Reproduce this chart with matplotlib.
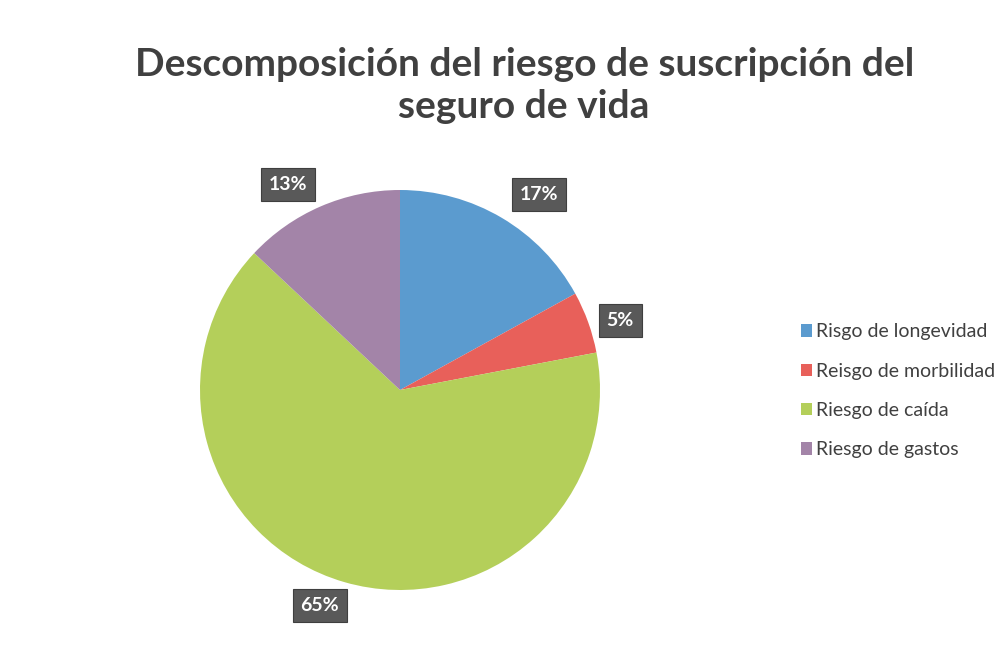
import matplotlib.pyplot as plt

categories = ['Risgo de longevidad', 'Reisgo de morbilidad', 'Riesgo de caída', 'Riesgo de gastos']
values = [17, 5, 65, 13]
colors = ['#5B9BCF', '#E8605A', '#B4CF5A', '#A384A8']

plt.rcParams['font.family'] = ['Lato', 'DejaVu Sans']

fig = plt.figure(figsize=(10.08, 6.45), dpi=100)
fig.patch.set_facecolor('white')

# pie axes: centre ~ (400, 390) px, radius 200 px
ax = fig.add_axes([200 / 1008, 55 / 645, 400 / 1008, 400 / 645])
wedges, texts, autotexts = ax.pie(values, colors=colors, startangle=90, counterclock=False,
                                  radius=1, autopct='%d%%', pctdistance=1.17,
                                  wedgeprops=dict(linewidth=0))
ax.set_xlim(-1, 1)
ax.set_ylim(-1, 1)
ax.set_aspect('auto')

# small nudges so the boxes sit where excel put them
nudges = [(0.10, -0.03), (0.0, -0.05), (-0.075, 0.045), (-0.095, -0.045)]
for t, (dx, dy) in zip(autotexts, nudges):
    x, y = t.get_position()
    t.set_position((x + dx, y + dy))
    t.set_color('white')
    t.set_fontsize(14)
    t.set_fontweight('bold')
    t.set_clip_on(False)
    t.set_bbox(dict(boxstyle='square,pad=0.4', facecolor='#595959', edgecolor='#3f3f3f', linewidth=0.8))

fig.text(0.52, 0.868, 'Descomposición del riesgo de suscripción del\nseguro de vida',
         ha='center', va='center', fontsize=28, fontweight='bold', color='#404040',
         linespacing=1.25)

leg = fig.legend(wedges, categories, loc='center left', bbox_to_anchor=(0.777, 0.394),
                 frameon=False, fontsize=14, handlelength=0.6, handleheight=0.6,
                 handletextpad=0.2, labelspacing=1.15, labelcolor='#404040')

fig.savefig('out.png', dpi=100, facecolor='white')
